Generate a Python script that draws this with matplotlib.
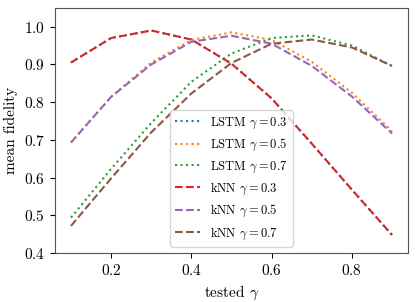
import matplotlib
matplotlib.use("Agg")
import matplotlib.pyplot as plt

plt.rcParams["font.family"] = "serif"
plt.rcParams["font.serif"] = ["cmr10", "DejaVu Serif"]
plt.rcParams["mathtext.fontset"] = "cm"
plt.rcParams["axes.formatter.use_mathtext"] = True
plt.rcParams["axes.unicode_minus"] = False

# tested gamma values
gamma = [0.1, 0.2, 0.3, 0.4, 0.5, 0.6, 0.7, 0.8, 0.9]

# mean fidelity per trained model
lstm_03 = [0.905, 0.970, 0.990, 0.966, 0.902, 0.810, 0.690, 0.568, 0.448]
lstm_05 = [0.693, 0.814, 0.905, 0.965, 0.985, 0.965, 0.907, 0.825, 0.723]
lstm_07 = [0.494, 0.623, 0.745, 0.854, 0.929, 0.970, 0.977, 0.950, 0.896]
knn_03 = [0.905, 0.970, 0.990, 0.966, 0.902, 0.810, 0.690, 0.568, 0.448]
knn_05 = [0.693, 0.814, 0.900, 0.960, 0.976, 0.955, 0.896, 0.815, 0.717]
knn_07 = [0.472, 0.598, 0.720, 0.823, 0.904, 0.955, 0.966, 0.945, 0.896]

fig, ax = plt.subplots(figsize=(4.16, 3.02), dpi=100)

ax.plot(gamma, lstm_03, ":", color="tab:blue", lw=1.5, label=r"LSTM $\gamma = 0.3$")
ax.plot(gamma, lstm_05, ":", color="tab:orange", lw=1.5, label=r"LSTM $\gamma = 0.5$")
ax.plot(gamma, lstm_07, ":", color="tab:green", lw=1.5, label=r"LSTM $\gamma = 0.7$")
ax.plot(gamma, knn_03, "--", color="tab:red", lw=1.5, label=r"kNN $\gamma = 0.3$")
ax.plot(gamma, knn_05, "--", color="tab:purple", lw=1.5, label=r"kNN $\gamma = 0.5$")
ax.plot(gamma, knn_07, "--", color="tab:brown", lw=1.5, label=r"kNN $\gamma = 0.7$")

ax.set_ylim(0.4, 1.05)
ax.set_xticks([0.2, 0.4, 0.6, 0.8])
ax.set_yticks([0.4, 0.5, 0.6, 0.7, 0.8, 0.9, 1.0])
ax.set_xlabel(r"tested $\gamma$", fontsize=11)
ax.set_ylabel("mean fidelity", fontsize=11)
ax.tick_params(labelsize=11)
for s in ax.spines.values():
    s.set_color("#555555")

ax.legend(loc="lower center", fontsize=9)

fig.subplots_adjust(left=0.132, right=0.981, top=0.974, bottom=0.162)
fig.savefig("out.png")
